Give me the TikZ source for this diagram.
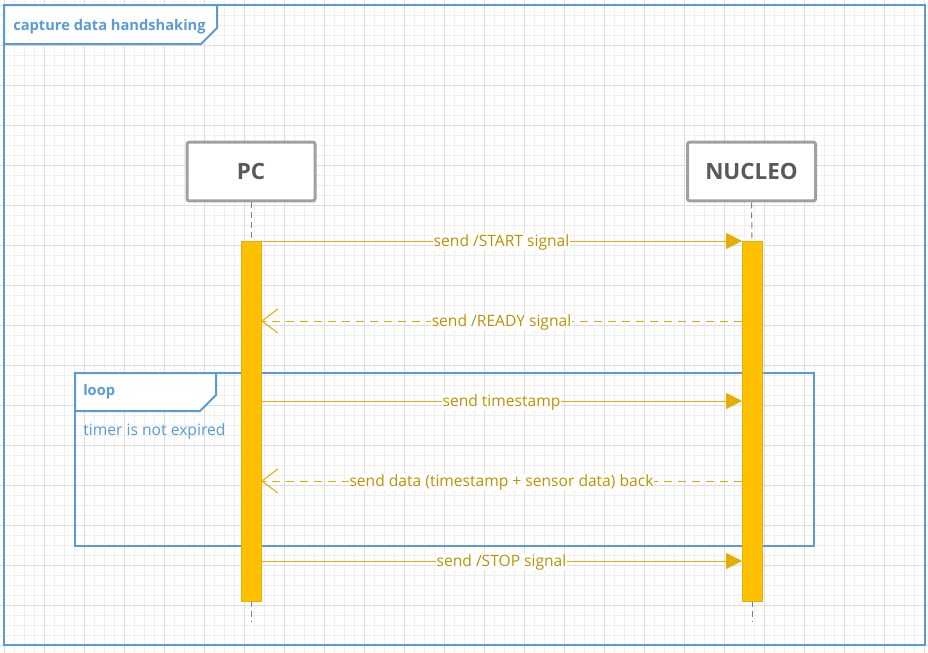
\documentclass[tikz,border=0pt]{standalone}
\usepackage{fontspec}
\setmainfont{Open Sans}
\usetikzlibrary{arrows.meta}
\definecolor{frameblue}{HTML}{5B9BD5}
\definecolor{bargold}{HTML}{FFC000}
\definecolor{barborder}{HTML}{E8B000}
\definecolor{msgline}{HTML}{E6AC00}
\definecolor{msgtext}{HTML}{BF9000}
\definecolor{boxgray}{HTML}{A0A0A0}
\definecolor{textgray}{HTML}{595959}
\definecolor{gridminor}{HTML}{EFEFEF}
\definecolor{gridmajor}{HTML}{DEDEDE}
\tikzset{
  gridline/.style={draw=gridminor, line width=0.75pt},
  gridmaj/.style={draw=gridmajor, line width=0.75pt},
  framebox/.style={draw=frameblue, line width=1.5pt},
  tabtext/.style={text=frameblue, font=\bfseries\fontsize{11pt}{13pt}\selectfont, anchor=west, inner sep=0pt},
  guardtext/.style={text=frameblue, font=\fontsize{11.75pt}{14pt}\selectfont, anchor=west, inner sep=0pt},
  actor/.style={draw=boxgray, line width=2.25pt, rounded corners=1.5pt, fill=white,
    minimum width=96pt, minimum height=44pt, text=textgray, font=\bfseries\fontsize{16.8pt}{20pt}\selectfont},
  lifeline/.style={draw=gray, line width=0.75pt, dash pattern=on 4.5pt off 3pt},
  actbar/.style={draw=barborder, fill=bargold, line width=0.75pt},
  syncmsg/.style={draw=msgline, line width=0.75pt, -{Triangle[length=12pt,width=12pt,fill=msgline]}},
  retmsg/.style={draw=msgline, line width=0.75pt, dash pattern=on 6pt off 4.5pt,
    -{Straight Barb[length=12pt,width=18pt,line width=0.75pt]}},
  msglabel/.style={fill=white, text=msgtext, font=\fontsize{11.7pt}{14pt}\selectfont, inner sep=0.5pt, yshift=-0.75pt}
}
\begin{document}
\begin{tikzpicture}[x=0.75pt,y=-0.75pt]
\useasboundingbox (0,0) rectangle (928,653);
\fill[white] (0,0) rectangle (928,653);
% grid
\foreach \i in {4,14,...,924} \draw[gridline] (\i,0) -- (\i,653);
\foreach \j in {5,15,...,645} \draw[gridline] (0,\j) -- (928,\j);
\foreach \i in {4,44,...,924} \draw[gridmaj] (\i,0) -- (\i,653);
\foreach \j in {5,45,...,645} \draw[gridmaj] (0,\j) -- (928,\j);

% outer frame
\draw[framebox] (4,5) rectangle (925,645);
\draw[framebox, fill=white] (4,5) -- (217,5) -- (217,28) -- (201,44) -- (4,44) -- cycle;
\node[tabtext] (title) at (13,27) {capture data handshaking};

% actors
\node[actor] (pc) at (251,171.5) {PC};
\node[actor] (nucleo) at (751.5,171.5) {NUCLEO};

% lifelines
\coordinate (pcTop) at (251,241);
\coordinate (pcBot) at (251,601);
\coordinate (pcEnd) at (251,622);
\coordinate (nuTop) at (752,241);
\coordinate (nuBot) at (752,601);
\coordinate (nuEnd) at (752,622);
\draw[lifeline] (pc.south) -- (pcTop);
\draw[lifeline] (pcBot) -- (pcEnd);
\draw[lifeline] (nucleo.south) -- (nuTop);
\draw[lifeline] (nuBot) -- (nuEnd);

% loop frame
\draw[framebox] (75,373) rectangle (814,546);
\draw[framebox, fill=white] (75,373) -- (216,373) -- (216,395) -- (200,411) -- (75,411) -- cycle;
\node[tabtext] (looplbl) at (83,392) {loop};
\node[guardtext] (guard) at (83,431) {timer is not expired};

% activation bars
\node[actbar, minimum width=15pt, minimum height=270pt, inner sep=0pt, anchor=north] (pcbar) at (251,241) {};
\node[actbar, minimum width=15pt, minimum height=270pt, inner sep=0pt, anchor=north] (nubar) at (752,241) {};

% messages
\coordinate (pL1) at (261,241); \coordinate (nR1) at (742,241);
\coordinate (pL2) at (261,321); \coordinate (nR2) at (742,321);
\coordinate (pL3) at (261,401); \coordinate (nR3) at (742,401);
\coordinate (pL4) at (261,481); \coordinate (nR4) at (742,481);
\coordinate (pL5) at (261,561); \coordinate (nR5) at (742,561);
\draw[syncmsg] (pL1) -- node[msglabel] {send /START signal} (nR1);
\draw[retmsg] (nR2) -- node[msglabel] {send /READY signal} (pL2);
\draw[syncmsg] (pL3) -- node[msglabel] {send timestamp} (nR3);
\draw[retmsg] (nR4) -- node[msglabel] {send data (timestamp + sensor data) back} (pL4);
\draw[syncmsg] (pL5) -- node[msglabel] {send /STOP signal} (nR5);
\end{tikzpicture}
\end{document}
